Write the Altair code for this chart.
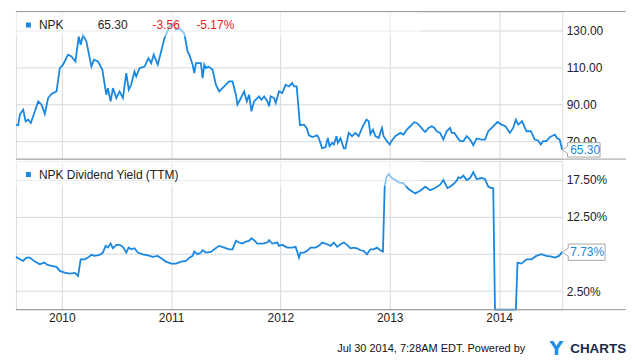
import altair as alt
import pandas as pd

# ---------------- data ----------------
year_ticks = [2010, 2011, 2012, 2013, 2014]
price_ticks = [70, 90, 110, 130]
yield_ticks = [2.5, 7.5, 12.5, 17.5]

price_t = [2009.581, 2009.602, 2009.617, 2009.647, 2009.669, 2009.693, 2009.717, 2009.754, 2009.784, 2009.815,
           2009.845, 2009.875, 2009.906, 2009.952, 2009.982, 2010.012, 2010.057, 2010.088, 2010.125, 2010.155,
           2010.173, 2010.194, 2010.225, 2010.271, 2010.294, 2010.331, 2010.371, 2010.407, 2010.422, 2010.447,
           2010.468, 2010.499, 2010.529, 2010.559, 2010.590, 2010.613, 2010.635, 2010.665, 2010.681, 2010.711,
           2010.757, 2010.793, 2010.818, 2010.841, 2010.878, 2010.909, 2010.939, 2010.985, 2011.015, 2011.046,
           2011.076, 2011.121, 2011.151, 2011.167, 2011.197, 2011.212, 2011.228, 2011.273, 2011.288, 2011.304,
           2011.319, 2011.340, 2011.379, 2011.410, 2011.440, 2011.486, 2011.531, 2011.562, 2011.593, 2011.607,
           2011.638, 2011.668, 2011.693, 2011.714, 2011.735, 2011.759, 2011.805, 2011.826, 2011.851, 2011.881,
           2011.896, 2011.911, 2011.942, 2011.957, 2011.987, 2012.017, 2012.048, 2012.078, 2012.108, 2012.124,
           2012.149, 2012.179, 2012.215, 2012.240, 2012.261, 2012.291, 2012.336, 2012.352, 2012.382, 2012.413,
           2012.434, 2012.449, 2012.473, 2012.489, 2012.513, 2012.525, 2012.550, 2012.580, 2012.595, 2012.625,
           2012.655, 2012.686, 2012.716, 2012.747, 2012.787, 2012.808, 2012.823, 2012.847, 2012.869, 2012.899,
           2012.929, 2012.944, 2012.975, 2012.999, 2013.020, 2013.051, 2013.097, 2013.127, 2013.157, 2013.188,
           2013.224, 2013.248, 2013.279, 2013.303, 2013.325, 2013.355, 2013.385, 2013.409, 2013.430, 2013.461,
           2013.491, 2013.521, 2013.552, 2013.567, 2013.592, 2013.622, 2013.644, 2013.674, 2013.704, 2013.735,
           2013.765, 2013.795, 2013.840, 2013.871, 2013.902, 2013.947, 2013.986, 2014.023, 2014.059, 2014.099,
           2014.129, 2014.154, 2014.175, 2014.211, 2014.251, 2014.291, 2014.327, 2014.357, 2014.382, 2014.403,
           2014.433, 2014.464, 2014.510, 2014.533, 2014.555, 2014.578]
price_v = [79.0, 78.7, 84.6, 87.1, 80.8, 81.7, 79.9, 86.2, 91.6, 89.8,
           84.8, 93.4, 95.6, 97.0, 109.6, 111.5, 116.9, 115.9, 113.2, 126.8,
           122.3, 127.7, 124.1, 110.5, 114.2, 113.2, 108.8, 95.2, 98.8, 91.6,
           98.8, 93.4, 97.0, 93.4, 106.9, 97.9, 100.6, 107.8, 105.1, 109.6,
           110.5, 115.0, 112.3, 116.9, 111.5, 118.6, 125.8, 132.2, 133.9, 130.4,
           131.2, 128.5, 118.6, 116.9, 111.5, 106.9, 112.3, 112.3, 104.2, 111.5,
           109.6, 110.5, 108.8, 100.6, 97.0, 99.7, 102.4, 102.4, 95.2, 89.8,
           93.4, 97.0, 91.6, 95.2, 86.2, 91.6, 94.3, 92.5, 94.3, 91.6,
           88.9, 94.3, 93.4, 90.7, 97.0, 96.1, 100.6, 99.7, 101.5, 99.7,
           99.7, 78.7, 79.0, 77.2, 73.2, 72.2, 73.2, 71.5, 66.1, 66.8,
           71.8, 67.3, 69.1, 68.2, 72.7, 69.1, 71.5, 66.1, 66.1, 74.5,
           72.7, 74.5, 72.7, 77.2, 81.7, 80.8, 73.9, 76.3, 72.7, 71.8,
           77.2, 72.7, 70.0, 68.2, 70.4, 72.7, 74.5, 73.6, 76.3, 78.1,
           80.3, 79.9, 78.1, 76.3, 75.0, 77.2, 78.1, 77.2, 75.4, 74.5,
           70.9, 75.4, 77.2, 74.5, 74.5, 71.8, 70.0, 70.0, 72.7, 70.9,
           67.8, 71.5, 70.9, 70.9, 75.4, 78.1, 80.4, 79.0, 78.1, 74.5,
           77.2, 81.7, 79.0, 80.8, 75.4, 75.4, 70.9, 70.4, 68.2, 70.0,
           70.0, 72.2, 73.6, 71.5, 70.9, 65.3]

yield_t = [2009.581, 2009.617, 2009.647, 2009.678, 2009.708, 2009.754, 2009.799, 2009.839, 2009.870, 2009.906,
           2009.952, 2009.982, 2010.027, 2010.073, 2010.119, 2010.149, 2010.173, 2010.210, 2010.240, 2010.271,
           2010.301, 2010.346, 2010.376, 2010.401, 2010.422, 2010.447, 2010.468, 2010.499, 2010.529, 2010.559,
           2010.590, 2010.611, 2010.635, 2010.665, 2010.696, 2010.741, 2010.787, 2010.832, 2010.878, 2010.909,
           2010.954, 2011.000, 2011.046, 2011.091, 2011.137, 2011.167, 2011.197, 2011.212, 2011.242, 2011.273,
           2011.288, 2011.319, 2011.365, 2011.395, 2011.440, 2011.486, 2011.531, 2011.562, 2011.593, 2011.623,
           2011.653, 2011.684, 2011.714, 2011.735, 2011.759, 2011.789, 2011.835, 2011.881, 2011.896, 2011.926,
           2011.972, 2011.987, 2012.017, 2012.063, 2012.108, 2012.139, 2012.154, 2012.170, 2012.185, 2012.215,
           2012.245, 2012.276, 2012.322, 2012.352, 2012.382, 2012.428, 2012.459, 2012.489, 2012.519, 2012.550,
           2012.580, 2012.610, 2012.641, 2012.671, 2012.701, 2012.732, 2012.762, 2012.792, 2012.823, 2012.853,
           2012.883, 2012.914, 2012.938, 2012.954, 2012.969, 2012.990, 2013.020, 2013.051, 2013.081, 2013.127,
           2013.172, 2013.233, 2013.279, 2013.325, 2013.370, 2013.416, 2013.461, 2013.491, 2013.528, 2013.552,
           2013.583, 2013.613, 2013.628, 2013.649, 2013.674, 2013.704, 2013.735, 2013.765, 2013.795, 2013.840,
           2013.871, 2013.902, 2013.932, 2013.947, 2013.963, 2014.054, 2014.154, 2014.169, 2014.205, 2014.251,
           2014.296, 2014.342, 2014.388, 2014.433, 2014.479, 2014.510, 2014.549, 2014.578]
yield_v = [7.10, 6.77, 6.56, 7.00, 7.00, 6.46, 6.10, 6.33, 6.02, 5.88,
           5.75, 5.21, 4.98, 4.84, 4.94, 4.53, 6.77, 6.77, 7.00, 7.37,
           7.23, 7.37, 7.68, 8.58, 8.35, 8.89, 8.26, 8.72, 8.72, 8.45,
           7.68, 8.35, 8.12, 8.26, 7.68, 7.45, 7.31, 7.10, 7.23, 6.91,
           6.46, 6.19, 6.19, 6.46, 6.56, 7.00, 7.23, 7.81, 7.45, 7.68,
           7.99, 7.68, 7.77, 8.12, 8.58, 8.35, 8.12, 8.12, 9.26, 9.03,
           8.89, 9.16, 9.26, 9.61, 9.34, 8.89, 8.89, 9.03, 9.34, 8.89,
           9.03, 8.58, 8.72, 8.35, 8.35, 8.45, 7.81, 7.00, 7.68, 7.68,
           7.91, 8.35, 8.35, 8.58, 9.03, 8.80, 8.58, 9.03, 8.45, 8.80,
           9.03, 8.72, 8.26, 8.35, 8.26, 7.99, 7.91, 7.45, 8.12, 8.12,
           8.35, 7.99, 7.81, 16.55, 17.81, 18.26, 17.72, 17.45, 17.14, 17.00,
           16.23, 15.65, 16.01, 16.55, 16.09, 16.37, 16.82, 17.45, 16.37, 16.55,
           16.91, 17.36, 17.81, 17.72, 18.04, 17.45, 17.72, 18.49, 17.58, 17.72,
           17.58, 16.55, 16.37, 16.37, 0.0, 0.0, 0.0, 6.33, 6.19, 6.77,
           6.77, 7.23, 7.45, 7.23, 7.14, 7.00, 7.23, 7.73]

ticker = "NPK"
price_last_label = "65.30"
price_change = "-3.56"
price_change_pct = "-5.17%"
yield_title = "NPK Dividend Yield (TTM)"
yield_last_label = "7.73%"
footer_text = "Jul 30 2014, 7:28AM EDT.  Powered by"
logo_a = "Y"
logo_b = "CHARTS"

x_domain = [2009.581, 2014.578]
price_domain = [60.3, 140.3]
yield_domain = [0, 20]

# ---------------- style ----------------
LINE = "#1A87E0"
GRID = "#D5D8DD"
FRAME = "#9A9A9A"
BG = "#E9F0FB"
FONT = "Liberation Sans"
W, H1, H2 = 548, 148, 149
CALLOUT = "M0,0L0.14,-0.09L0.14,-0.19L1,-0.19L1,0.19L0.14,0.19L0.14,0.09Z"

price_df = pd.DataFrame({"t": price_t, "v": price_v})
yield_df = pd.DataFrame({"t": yield_t, "v": yield_v})
price_last = price_df.tail(1).assign(label=price_last_label)
yield_last = yield_df.tail(1).assign(label=yield_last_label)
dummy = pd.DataFrame({"k": [0]})

xs = alt.Scale(domain=x_domain, nice=False, zero=False)


def x_enc(show_labels):
    if show_labels:
        ax = alt.Axis(values=year_ticks, format="d", ticks=False, domain=False, title=None,
                      labelPadding=3, labelFont=FONT, labelFontSize=12, labelColor="#222",
                      gridColor=GRID, labelFlush=False)
    else:
        ax = alt.Axis(values=year_ticks, labels=False, ticks=False, domain=False, title=None,
                      gridColor=GRID)
    return alt.X("t:Q", scale=xs, axis=ax)


def y_enc(domain, values, label_expr):
    return alt.Y("v:Q", scale=alt.Scale(domain=domain, nice=False, zero=False),
                 axis=alt.Axis(orient="right", values=values, labelExpr=label_expr, ticks=False,
                               domain=False, title=None, labelPadding=4, labelFont=FONT,
                               labelFontSize=12, labelColor="#222", gridColor=GRID))


def panel(df, last_df, h, y_domain, y_values, label_expr, legend_texts, last_size, show_x, extra):
    xe = x_enc(show_x)
    ye = y_enc(y_domain, y_values, label_expr)
    line = alt.Chart(df).mark_line(color=LINE, strokeWidth=1.8).encode(x=xe, y=ye)
    band = alt.Chart(dummy).mark_rect(color="white", opacity=0.5).encode(
        x=alt.value(0), x2=alt.value(406), y=alt.value(0), y2=alt.value(25))
    square = alt.Chart(dummy).mark_rect(color=LINE).encode(
        x=alt.value(10), x2=alt.value(15), y=alt.value(11), y2=alt.value(16))
    layers = [line, band, square]
    for txt, xpos, col in legend_texts:
        layers.append(alt.Chart(dummy).mark_text(text=txt, align="left", baseline="middle",
                                                 font=FONT, fontSize=12, color=col).encode(
            x=alt.value(xpos), y=alt.value(13.5)))
    callout = alt.Chart(last_df).mark_point(shape=CALLOUT, size=last_size, filled=True, fill="white",
                                            stroke="#A8A8A8", strokeWidth=1, opacity=1).encode(x=xe, y=ye)
    callout_txt = alt.Chart(last_df).mark_text(align="left", baseline="middle", dx=8, font=FONT,
                                               fontSize=12, color=LINE).encode(x=xe, y=ye, text="label:N")
    layers += [callout, callout_txt]
    bottom_rule = alt.Chart(dummy).mark_rule(color=FRAME, strokeWidth=1).encode(
        x=alt.value(0), x2=alt.value(612), y=alt.value(h))
    layers.append(bottom_rule)
    layers += extra
    return alt.layer(*layers).properties(width=W, height=h)


top_rule = alt.Chart(dummy).mark_rule(color=FRAME, strokeWidth=1).encode(
    x=alt.value(0), x2=alt.value(612), y=alt.value(0))

top = panel(price_df, price_last, H1, price_domain, price_ticks, "format(datum.value, '.2f')",
            [(ticker, 23, "#222"), (price_last_label, 82, "#222"),
             (price_change, 137, "#E8211D"), (price_change_pct, 181, "#E8211D")],
            5776, False, [top_rule])

footer = [
    alt.Chart(dummy).mark_text(text=footer_text, align="right", baseline="middle", font=FONT,
                               fontSize=11, color="#111").encode(x=alt.value(511), y=alt.value(189)),
    alt.Chart(dummy).mark_text(text=logo_a, align="center", baseline="middle", font="DejaVu Sans",
                               fontSize=19, fontWeight="bold", color="#1E90E6").encode(
        x=alt.value(542), y=alt.value(189)),
    alt.Chart(dummy).mark_text(text=logo_b, align="left", baseline="middle", font=FONT,
                               fontSize=13.5, fontWeight="bold", color="#1B2A47").encode(
        x=alt.value(556), y=alt.value(189)),
]

bottom = panel(yield_df, yield_last, H2, yield_domain, yield_ticks,
               "datum.value == 7.5 ? '' : format(datum.value, '.2f') + '%'",
               [(yield_title, 23, "#222")], 7396, True, footer)

chart = alt.vconcat(top, bottom, spacing=0).properties(
    padding={"left": 3, "top": 2, "right": 0, "bottom": 0}
).configure_view(stroke=FRAME, strokeWidth=1, fill=BG).configure(font=FONT)

chart.save("out.html", embed_options={"renderer": "svg", "actions": False})
